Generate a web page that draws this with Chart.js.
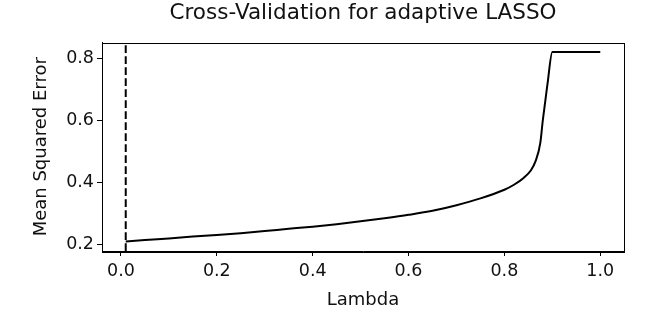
<!DOCTYPE html>
<html>
<head>
<meta charset="utf-8">
<script src="https://cdn.jsdelivr.net/npm/chart.js@4/dist/chart.umd.min.js"></script>
<style>
  html, body { margin: 0; padding: 0; background: #fff; }
  #wrap { width: 656px; height: 320px; }
</style>
</head>
<body>
<div id="wrap"><canvas id="cvChart" width="656" height="320"></canvas></div>
<script>
// values
const lambdas = [0.01, 0.05, 0.1, 0.15, 0.2, 0.25, 0.3, 0.35, 0.4, 0.45, 0.5, 0.55, 0.6, 0.65, 0.7, 0.75, 0.8, 0.82, 0.84, 0.855, 0.865, 0.875, 0.88, 0.885, 0.89, 0.9, 0.95, 1.0];
const mse = [0.211, 0.216, 0.221, 0.227, 0.232, 0.238, 0.245, 0.252, 0.259, 0.267, 0.276, 0.286, 0.297, 0.31, 0.328, 0.35, 0.378, 0.394, 0.416, 0.44, 0.47, 0.53, 0.6, 0.66, 0.72, 0.822, 0.822, 0.822];
const bestLambda = 0.01;
const xTicks = [0.0, 0.2, 0.4, 0.6, 0.8, 1.0];
const yTicks = [0.2, 0.4, 0.6, 0.8];

const points = lambdas.map((l, i) => ({ x: l, y: mse[i] }));

// matplotlib-like 5% margins around the data
const xPad = (Math.max(...lambdas) - Math.min(...lambdas)) * 0.05;
const yPad = (Math.max(...mse) - Math.min(...mse)) * 0.05;

const tickFont = { family: 'DejaVu Sans', size: 17.5 };
const labelFont = { family: 'DejaVu Sans', size: 18 };

// box around the plot + dashed vertical line at the chosen lambda
const framePlugin = {
    id: 'frame',
    afterDatasetsDraw(chart) {
        const { ctx, chartArea: a, scales } = chart;
        const x = scales.x.getPixelForValue(bestLambda);
        ctx.save();
        ctx.strokeStyle = '#000';
        ctx.lineWidth = 2;
        ctx.setLineDash([7.7, 3.3]);
        ctx.beginPath();
        ctx.moveTo(x, a.bottom);   // axvline is drawn bottom -> top
        ctx.lineTo(x, a.top);
        ctx.stroke();
        ctx.setLineDash([]);
        ctx.lineWidth = 1;
        ctx.strokeRect(Math.round(a.left) + 0.5, Math.round(a.top) + 0.5,
            Math.round(a.right - a.left), Math.round(a.bottom - a.top));
        ctx.restore();
    }
};

new Chart(document.getElementById('cvChart').getContext('2d'), {
    type: 'line',
    data: {
        datasets: [{
            label: 'MSE',
            data: points,
            borderColor: '#000',
            borderWidth: 2,
            pointRadius: 0,
            fill: false,
            cubicInterpolationMode: 'monotone'
        }]
    },
    options: {
        responsive: false,
        animation: false,
        layout: { padding: { left: 0, right: 32, top: 0, bottom: 0 } },
        plugins: {
            legend: { display: false },
            tooltip: { enabled: false },
            title: {
                display: true,
                fullSize: false,
                text: 'Cross-Validation for adaptive LASSO',
                color: '#111',
                font: { family: 'DejaVu Sans', size: 21.5, weight: 'normal' },
                padding: { top: 1, bottom: 15.7 }
            }
        },
        scales: {
            x: {
                type: 'linear',
                min: Math.min(...lambdas) - xPad,
                max: Math.max(...lambdas) + xPad,
                afterBuildTicks: s => { s.ticks = xTicks.map(v => ({ value: v })); },
                afterFit: s => { s.height = 69; },
                border: { display: true, color: '#000', width: 1 },
                grid: { drawOnChartArea: false, drawTicks: true, tickLength: 5, color: '#000' },
                ticks: { color: '#111', font: tickFont, padding: 5, maxRotation: 0,
                         callback: v => v.toFixed(1) },
                title: { display: true, text: 'Lambda', color: '#111', font: labelFont,
                         padding: { top: 0, bottom: 9 } }
            },
            y: {
                type: 'linear',
                min: Math.min(...mse) - yPad,
                max: Math.max(...mse) + yPad,
                afterBuildTicks: s => { s.ticks = yTicks.map(v => ({ value: v })); },
                afterFit: s => { s.width = 102; },
                border: { display: true, color: '#000', width: 1 },
                grid: { drawOnChartArea: false, drawTicks: true, tickLength: 5, color: '#000' },
                ticks: { color: '#111', font: tickFont, padding: 3,
                         callback: v => v.toFixed(1) },
                title: { display: true, text: 'Mean Squared Error', color: '#111', font: labelFont,
                         padding: { top: 31, bottom: 0 } }
            }
        }
    },
    plugins: [framePlugin]
});
</script>
</body>
</html>
